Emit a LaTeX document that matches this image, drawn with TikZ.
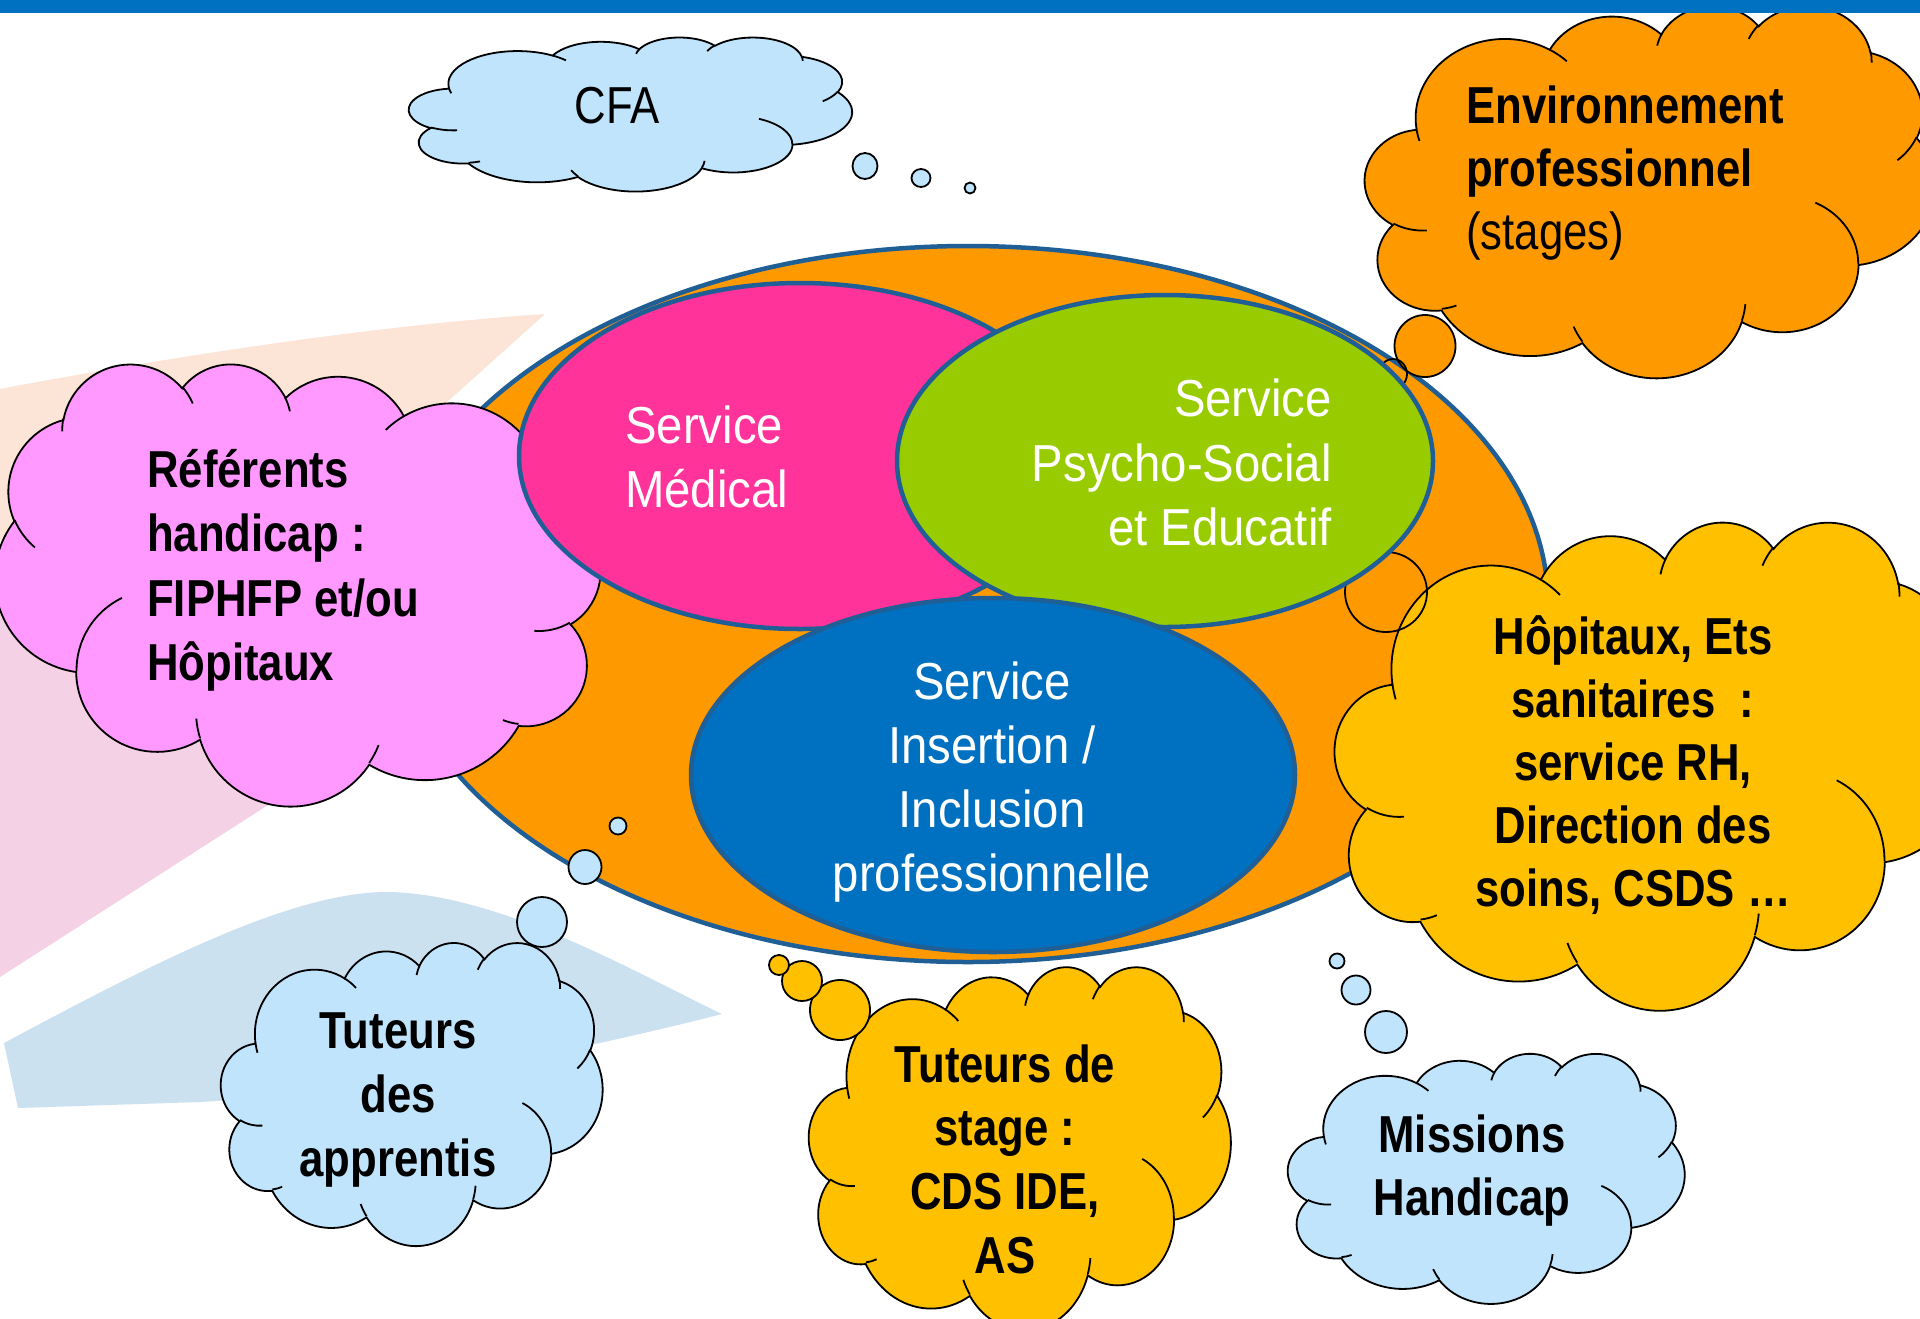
\documentclass[tikz,border=0pt]{standalone}
\usepackage{fontspec}
\setmainfont{Liberation Sans}
\newfontfamily\nar[FakeStretch=0.84]{Liberation Sans}
\newfontfamily\narw[FakeStretch=0.91]{Liberation Sans}
\usetikzlibrary{shapes.geometric}

\definecolor{barblue}{HTML}{0070C0}
\definecolor{ovalor}{HTML}{FF9900}
\definecolor{medpink}{HTML}{FF3399}
\definecolor{psygreen}{HTML}{99CC00}
\definecolor{insblue}{HTML}{0070C0}
\definecolor{ovline}{HTML}{1F5F96}
\definecolor{cloudblue}{HTML}{BFE4FC}
\definecolor{cloudpink}{HTML}{FF99FF}
\definecolor{cloudyel}{HTML}{FFC000}
\definecolor{bgpeach}{HTML}{FCE4D6}
\definecolor{bgpink}{HTML}{F5D1E5}
\definecolor{bgblue}{HTML}{CCE1F0}

% arc of a PowerPoint-style path: wR hR stAng swAng (visual angles, y down)
\newcommand\pptarc[4]{%
  \pgfmathsetmacro\tS{atan2((#1)*sin(#3),(#2)*cos(#3))}%
  \pgfmathsetmacro\tE{atan2((#1)*sin((#3)+(#4)),(#2)*cos((#3)+(#4)))}%
  \pgfmathsetmacro\tE{((\tE)<(\tS)) ? (\tE)+360 : (\tE)}%
  \pgfmathsetmacro\aS{0-(\tS)}%
  \pgfmathsetmacro\aE{0-(\tE)}%
  \pgfmathsetmacro\rX{(#1)*\cldx}%
  \pgfmathsetmacro\rY{(#2)*\cldy}%
  \pgfpatharc{\aS}{\aE}{\rX pt and \rY pt}}
\newcommand\pptcrease[6]{%
  \pgfpathmoveto{\pgfpointxy{\cldxo+(#1)*\cldx}{\cldyo+(#2)*\cldy}}%
  \pptarc{#3}{#4}{#5}{#6}}
% cloud: x0 y0 W H fill
\newcommand\pptcloud[5]{%
 \begin{pgfscope}%
  \def\cldxo{#1}\def\cldyo{#2}%
  \pgfmathsetmacro\cldx{(#3)/432}\pgfmathsetmacro\cldy{(#4)/432}%
  \pgfsetlinewidth{1.8pt}\pgfsetstrokecolor{black}\pgfsetfillcolor{#5}%
  \pgfpathmoveto{\pgfpointxy{\cldxo+39.00*\cldx}{\cldyo+143.70*\cldy}}%
  \pptarc{67.53}{91.90}{-190.48748}{123.78053}%
  \pptarc{53.33}{72.67}{-144.10238}{89.94523}%
  \pptarc{43.65}{59.45}{-145.80792}{99.72302}%
  \pptarc{48.57}{65.95}{-130.98607}{117.24173}%
  \pptarc{53.33}{72.73}{-78.70888}{109.02692}%
  \pptarc{67.75}{92.20}{-46.26725}{130.26900}%
  \pptarc{57.85}{78.67}{0.62502}{114.03333}%
  \pptarc{67.52}{92.15}{22.45160}{115.17255}%
  \pptarc{77.20}{105.43}{66.24263}{75.71102}%
  \pptarc{43.60}{59.18}{-274.94208}{146.73557}%
  \pptarc{43.45}{59.45}{-246.82850}{152.51885}%
  \pgfpathclose
  \pgfusepath{fill,stroke}%
  \pptcrease{46.93}{261.77}{43.45}{59.45}{86.74200}{26.42950}%
  \pptcrease{69.28}{348.99}{43.60}{59.18}{73.61047}{11.44747}%
  \pptcrease{164.78}{390.90}{67.52}{92.15}{137.62415}{14.08110}%
  \pptcrease{288.27}{347.51}{67.52}{92.15}{6.45327}{15.99835}%
  \pptcrease{341.29}{229.54}{57.85}{78.67}{-70.29235}{70.91737}%
  \pptcrease{417.98}{153.54}{53.33}{72.73}{30.31803}{27.75150}%
  \pptcrease{383.24}{54.26}{48.57}{65.95}{-13.74433}{14.85890}%
  \pptcrease{290.78}{39.52}{48.57}{65.95}{-149.18145}{18.19537}%
  \pptcrease{221.41}{47.20}{43.65}{59.45}{-163.49427}{17.68635}%
  \pptcrease{140.00}{51.92}{67.53}{91.90}{-66.70695}{12.31935}%
  \pptcrease{41.27}{157.89}{67.53}{91.90}{157.65435}{11.85817}%
  \pgfusepath{stroke}%
 \end{pgfscope}}

\newcommand\mlL[2][64pt]{\vtop{\baselineskip=#1\lineskiplimit=-1000pt\lineskip=0pt\halign{##\hfil\cr#2\crcr}}}
\newcommand\mlC[2][64pt]{\vtop{\baselineskip=#1\lineskiplimit=-1000pt\lineskip=0pt\halign{\hfil##\hfil\cr#2\crcr}}}
\newcommand\mlR[2][64pt]{\vtop{\baselineskip=#1\lineskiplimit=-1000pt\lineskip=0pt\halign{\hfil##\cr#2\crcr}}}

\tikzset{
 btxt/.style={font=\nar\bfseries\fontsize{52}{64}\selectfont, inner sep=0pt, text=black},
 rtxt/.style={font=\nar\fontsize{52}{64}\selectfont, inner sep=0pt, text=black},
 wtxt/.style={font=\narw\fontsize{52}{64}\selectfont, inner sep=0pt, text=white},
 svc/.style={ellipse, draw=ovline, line width=4.5pt, inner sep=0pt, outer sep=0pt},
 bub/.style={draw=black, line width=1.8pt},
}

\begin{document}
\begin{tikzpicture}[x=1pt,y=-1pt]
\useasboundingbox (0,0) rectangle (1920,1318);
\fill[white] (0,0) rectangle (1920,1318);
\clip (0,0) rectangle (1920,1318);

% faint background bands
\fill[bgpeach] (0,389) .. controls (180,355) and (380,325) .. (545,314) -- (446,403) -- (380,470) -- (0,540) -- cycle;
\fill[bgpink] (0,977) -- (268,805) -- (480,672) -- (480,560) -- (0,560) -- cycle;
\fill[bgblue] (4,1043) .. controls (150,965) and (290,892) .. (387,892)
  .. controls (500,893) and (640,975) .. (722,1014)
  .. controls (600,1045) and (400,1090) .. (200,1102) -- (18,1108) -- cycle;

% big orange ellipse
\node[svc, fill=ovalor, minimum width=1160pt, minimum height=716pt] (oval) at (968,604) {};

% clouds
\begin{scope}[xshift=595pt, xscale=-1]
  \pptcloud{-5}{363}{605}{442}{cloudpink}
\end{scope}
\pptcloud{1365}{5}{570}{372}{ovalor}
\pptcloud{1335}{521}{635}{488}{cloudyel}
\pptcloud{409}{37}{443}{154}{cloudblue}
\pptcloud{221}{942}{381.5}{303}{cloudblue}
\pptcloud{809}{966}{421.7}{363}{cloudyel}
\pptcloud{1288}{1053}{396.6}{250}{cloudblue}

% thought bubbles
\draw[bub, fill=cloudblue] (865,166) ellipse [x radius=12.5pt, y radius=13pt];
\draw[bub, fill=cloudblue] (921,178) ellipse [x radius=9.5pt, y radius=9pt];
\draw[bub, fill=cloudblue] (970,188) ellipse [x radius=5.5pt, y radius=5.5pt];
\draw[bub, fill=ovalor] (1425,346) ellipse [x radius=30.5pt, y radius=31pt];
\draw[bub, fill=cloudblue] (542,922) ellipse [x radius=25pt, y radius=25pt];
\draw[bub, fill=cloudblue] (585,867) ellipse [x radius=16.5pt, y radius=17pt];
\draw[bub, fill=cloudblue] (618,826) ellipse [x radius=8.5pt, y radius=8.5pt];
\draw[bub, fill=cloudyel] (840,1010) ellipse [x radius=30pt, y radius=30pt];
\draw[bub, fill=cloudyel] (802,981) ellipse [x radius=20pt, y radius=20pt];
\draw[bub, fill=cloudyel] (779,965) ellipse [x radius=10pt, y radius=10pt];
\draw[bub, fill=cloudblue] (1386,1032) ellipse [x radius=21pt, y radius=21pt];
\draw[bub, fill=cloudblue] (1356,990) ellipse [x radius=14.5pt, y radius=14.5pt];
\draw[bub, fill=cloudblue] (1337,961) ellipse [x radius=7.5pt, y radius=7.5pt];
% bubbles seen only as outlines
\draw[bub] (1393,374) ellipse [x radius=14pt, y radius=15pt];
\draw[bub] (1386,592) ellipse [x radius=41pt, y radius=40pt];

% service ellipses
\node[svc, fill=medpink, minimum width=562pt, minimum height=346pt] (med) at (800,456) {};
\node[svc, fill=psygreen, minimum width=536pt, minimum height=332pt] (psy) at (1165,461) {};
\node[svc, fill=insblue, minimum width=604pt, minimum height=354pt] (ins) at (993,775) {};

% texts
\node[wtxt, anchor=base west] (tMed) at (625,443) {\mlL[64.5pt]{Service\cr Médical}};
\node[wtxt, anchor=base east] (tPsy) at (1332,416.6) {\mlR[64.5pt]{Service\cr Psycho-Social\cr et Educatif}};
\node[wtxt, anchor=base] (tIns) at (992,699) {\mlC[64.3pt]{Service\cr Insertion /\cr Inclusion\cr professionnelle}};
\node[rtxt, anchor=base] (tCFA) at (617,123) {CFA};
\node[btxt, anchor=base west] (tEnv) at (1466,123) {\mlL[63pt]{Environnement\cr professionnel\cr {\mdseries (stages)}}};
\node[btxt, anchor=base west] (tRef) at (147,487) {\mlL[64.5pt]{Référents\cr handicap :\cr FIPHFP et/ou\cr Hôpitaux}};
\node[btxt, anchor=base] (tHop) at (1633,654) {\mlC[63.2pt]{Hôpitaux, Ets\cr sanitaires\ \ :\cr service RH,\cr Direction des\cr soins, CSDS …}};
\node[btxt, anchor=base] (tApp) at (398,1048) {\mlC{Tuteurs\cr des\cr apprentis}};
\node[btxt, anchor=base] (tSta) at (1005,1082) {\mlC[63.7pt]{Tuteurs de\cr stage :\cr CDS IDE,\cr AS}};
\node[btxt, anchor=base] (tMis) at (1472,1152) {\mlC[63pt]{Missions\cr Handicap}};

% top bar
\fill[barblue] (0,0) rectangle (1920,13);
\end{tikzpicture}
\end{document}
